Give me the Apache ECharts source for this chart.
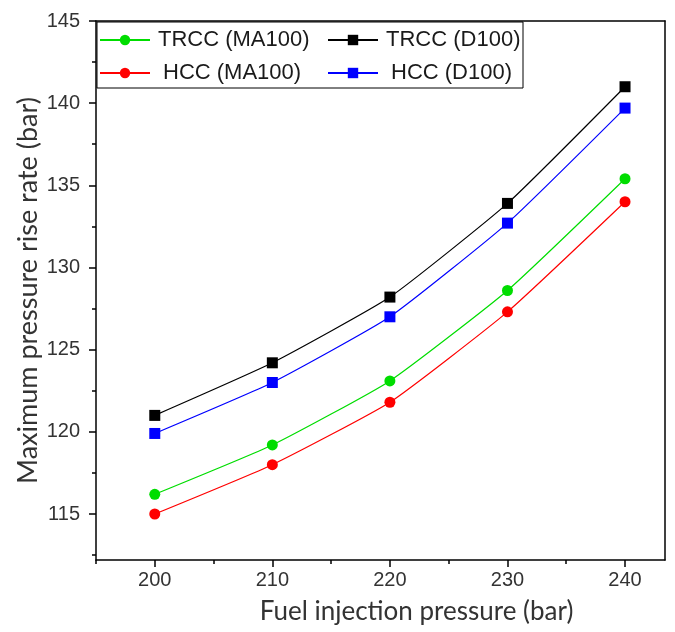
<!DOCTYPE html>
<html><head><meta charset="utf-8">
<script src="https://cdn.jsdelivr.net/npm/echarts@6/dist/echarts.min.js"></script>
<style>html,body{margin:0;padding:0;background:#fff}#c{width:675px;height:632px}</style>
</head><body><div id="c"></div>
<script>
const xValues = [200, 210, 220, 230, 240];
const trccMA100 = [116.2, 119.2, 123.1, 128.6, 135.4];
const hccMA100 = [115.0, 118.0, 121.8, 127.3, 134.0];
const trccD100 = [121.0, 124.2, 128.2, 133.9, 141.0];
const hccD100 = [119.9, 123.0, 127.0, 132.7, 139.7];
const seriesNames = ['TRCC (MA100)', 'TRCC (D100)', 'HCC (MA100)', 'HCC (D100)'];
const xMajorTicks = [200, 210, 220, 230, 240];
const xMinorTicks = [195, 205, 215, 225, 235];
const yMajorTicks = [115, 120, 125, 130, 135, 140, 145];
const yMinorTicks = [112.5, 117.5, 122.5, 127.5, 132.5, 137.5, 142.5];

const X_MIN = 195, X_MAX = 243.4, Y_MIN = 112.2, Y_MAX = 145;
const chart = echarts.init(document.getElementById('c'));
const pairs = arr => xValues.map((x, i) => [x, arr[i]]);
function mk(name, data, color, symbol) {
  return { name, type: 'line', data: pairs(data), symbol, symbolSize: 11, smooth: 0.15,
    itemStyle: { color }, lineStyle: { color, width: 1.2 }, z: 3 };
}
const blk = { color: '#000', width: 1.5 };
const labelFont = { fontFamily: 'Liberation Sans, Arial', fontSize: 20, color: '#333' };
function leg(name, left, top, padLeft) {
  return { data: [name], left, top, padding: 0, itemWidth: 50, itemHeight: 13, itemGap: 0,
    textStyle: { fontFamily: 'Liberation Sans, Arial', fontSize: 22, color: '#1a1a1a',
      padding: [0, 0, 0, padLeft] } };
}
function hiddenX(pos, ticks, len) {
  return { type: 'value', min: X_MIN, max: X_MAX, position: pos,
    axisLine: { show: pos === 'top', onZero: false, lineStyle: blk },
    axisTick: { show: !!ticks, customValues: ticks || undefined, length: len, lineStyle: blk },
    axisLabel: { show: false }, splitLine: { show: false } };
}
function hiddenY(pos, ticks, len) {
  return { type: 'value', min: Y_MIN, max: Y_MAX, position: pos,
    axisLine: { show: pos === 'right', onZero: false, lineStyle: blk },
    axisTick: { show: !!ticks, customValues: ticks || undefined, length: len, lineStyle: blk },
    axisLabel: { show: false }, splitLine: { show: false } };
}
chart.setOption({
  animation: false,
  grid: { left: 96, right: 10, top: 21, bottom: 72 },
  legend: [
    leg(seriesNames[0], 99, 29, 3),
    leg(seriesNames[1], 327, 29, 3),
    leg(seriesNames[2], 99, 62, 8),
    leg(seriesNames[3], 327, 62, 8)
  ],
  graphic: [{ type: 'rect', shape: { x: 97, y: 22, width: 426, height: 66 },
    style: { fill: 'none', stroke: '#000', lineWidth: 1 }, z: 10 }],
  xAxis: [{
    type: 'value', min: X_MIN, max: X_MAX, position: 'bottom',
    name: 'Fuel injection pressure (bar)', nameLocation: 'middle', nameGap: 39,
    nameTextStyle: { fontFamily: 'Lato', fontSize: 26, color: '#333', padding: [0, 0, 0, 72] },
    axisLine: { onZero: false, lineStyle: blk },
    axisTick: { customValues: xMajorTicks, length: 7, lineStyle: blk },
    axisLabel: Object.assign({ customValues: xMajorTicks, margin: 10 }, labelFont),
    splitLine: { show: false }
  },
  hiddenX('top', null, 0),
  hiddenX('bottom', xMinorTicks, 4)],
  yAxis: [{
    type: 'value', min: Y_MIN, max: Y_MAX, position: 'left',
    name: 'Maximum pressure rise rate (bar)', nameLocation: 'middle', nameGap: 54,
    nameMoveOverlap: false,
    nameTextStyle: { fontFamily: 'Lato', fontSize: 27, color: '#333' },
    axisLine: { show: true, onZero: false, lineStyle: blk },
    axisTick: { show: true, customValues: yMajorTicks, length: 7, lineStyle: blk },
    axisLabel: Object.assign({ customValues: yMajorTicks, margin: 16 }, labelFont),
    splitLine: { show: false }
  },
  hiddenY('right', null, 0),
  hiddenY('left', yMinorTicks, 4)],
  series: [
    mk(seriesNames[0], trccMA100, '#00dd00', 'circle'),
    mk(seriesNames[1], trccD100, '#000000', 'rect'),
    mk(seriesNames[2], hccMA100, '#ff0000', 'circle'),
    mk(seriesNames[3], hccD100, '#0000ff', 'rect')
  ]
});
</script></body></html>
